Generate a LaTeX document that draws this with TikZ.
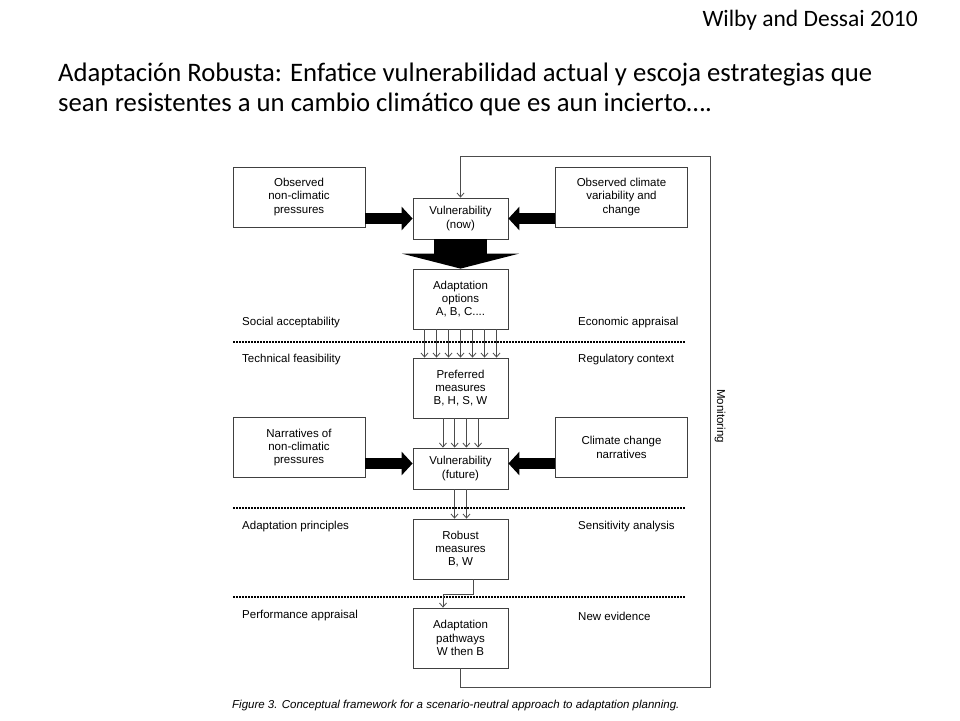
\documentclass[tikz,border=0pt]{standalone}
\usepackage{fontspec}
\setmainfont{Liberation Sans}
\newfontfamily\slidefont{Carlito}
\usetikzlibrary{arrows.meta, positioning}

\begin{document}
\begin{tikzpicture}[x=1pt, y=-1pt,
  box/.style={draw=black!75, line width=.8pt, inner sep=0pt, align=center, font=\fontsize{11.5}{13.3}\selectfont},
  side/.style={box, minimum width=132pt, minimum height=60pt},
  mid/.style={box, minimum width=95pt, minimum height=60pt},
  vul/.style={box, minimum width=95pt, minimum height=41pt},
  lbl/.style={anchor=west, inner sep=0pt, font=\fontsize{11.5}{13.3}\selectfont},
  fat/.style={line width=11pt, -{Triangle[width=23pt, length=11pt]}},
  thin/.style={draw=black!70, line width=.8pt, -{Straight Barb[length=4pt, width=7pt]}},
  sep/.style={line width=1.6pt, dash pattern=on 1.6pt off 1.4pt}
]
\fill[white] (0,0) rectangle (960,720);
\useasboundingbox (0,0) rectangle (960,720);

\node[anchor=base east, inner sep=0pt, font=\slidefont\fontsize{23.5}{26}\selectfont] (cite) at (918,27) {Wilby and Dessai 2010};
\node[anchor=base west, inner sep=0pt, align=left, font=\slidefont\fontsize{26.7}{30}\selectfont] (title) at (58,111)
  {Adaptación Robusta: Enfatice vulnerabilidad actual y escoja estrategias que\\sean resistentes a un cambio climático que es aun incierto….};

% boxes
\node[side] (obsnon) at (299,197) {Observed\\non-climatic\\pressures};
\node[vul] (vnow) at (460.5,218.5) {Vulnerability\\(now)};
\node[side] (obsclim) at (621.5,197) {Observed climate\\variability and\\change};
\node[mid] (opts) at (460.5,299) {Adaptation\\options\\A, B, C....};
\node[mid] (pref) at (460.5,388) {Preferred\\measures\\B, H, S, W};
\node[side] (narrnon) at (299,447.5) {Narratives of\\non-climatic\\pressures};
\node[vul] (vfut) at (460.5,468.5) {Vulnerability\\(future)};
\node[side] (narrclim) at (621.5,447.5) {Climate change\\narratives};
\node[mid] (robust) at (460.5,549) {Robust\\measures\\B, W};
\node[mid] (paths) at (460.5,638) {Adaptation\\pathways\\W then B};

% criteria
\node[lbl] (social) at (242,323) {Social acceptability};
\node[lbl] (econ) at (578,323) {Economic appraisal};
\node[lbl] (tech) at (242,360) {Technical feasibility};
\node[lbl] (reg) at (578,360) {Regulatory context};
\node[lbl] (princ) at (242,527) {Adaptation principles};
\node[lbl] (sens) at (578,527) {Sensitivity analysis};
\node[lbl] (perf) at (242,616) {Performance appraisal};
\node[lbl] (newev) at (578,616) {New evidence};

\draw[sep] (233,342) -- (685,342);
\draw[sep] (233,508) -- (685,508);
\draw[sep] (233,597) -- (685,597);

% arrows
\draw[fat] (obsnon.east |- vnow.west) -- (vnow.west);
\draw[fat] (obsclim.west |- vnow.east) -- (vnow.east);
\draw[line width=53pt, -{Triangle[width=117pt, length=15pt]}] (vnow.south) -- (opts.north);
\coordinate (vfutl) at ([yshift=5pt]vfut.west);
\coordinate (vfutr) at ([yshift=5pt]vfut.east);
\draw[fat] (narrnon.east |- vfutl) -- (vfutl);
\draw[fat] (narrclim.west |- vfutr) -- (vfutr);

\foreach \i in {-3,...,3}
  \draw[thin] ([xshift=\i*12pt]opts.south) -- ([xshift=\i*12pt]pref.north);
\foreach \i in {-1.5,-0.5,0.5,1.5}
  \draw[thin] ([xshift=\i*11.7pt]pref.south) -- ([xshift=\i*11.7pt]vfut.north);
\foreach \i in {-6,6}
  \draw[thin] ([xshift=\i pt]vfut.south) -- ([xshift=\i pt]robust.north);
\draw[thin] ([xshift=12.5pt]robust.south) -- ++(0,15) -| ([xshift=-17.5pt]paths.north);

% monitoring loop
\coordinate (fbbot) at (710,687);
\coordinate (fbtop) at (710,156);
\draw[thin] (paths.south) |- (fbbot) -- (fbtop) -| (vnow.north);
\node[rotate=-90, inner sep=0pt, font=\fontsize{11.5}{13.3}\selectfont] (mon) at (720,416) {Monitoring};

\node[anchor=west, inner sep=0pt, font=\itshape\fontsize{11.5}{13}\selectfont] (cap) at (232,706)
  {Figure 3. Conceptual framework for a scenario-neutral approach to adaptation planning.};
\end{tikzpicture}
\end{document}
